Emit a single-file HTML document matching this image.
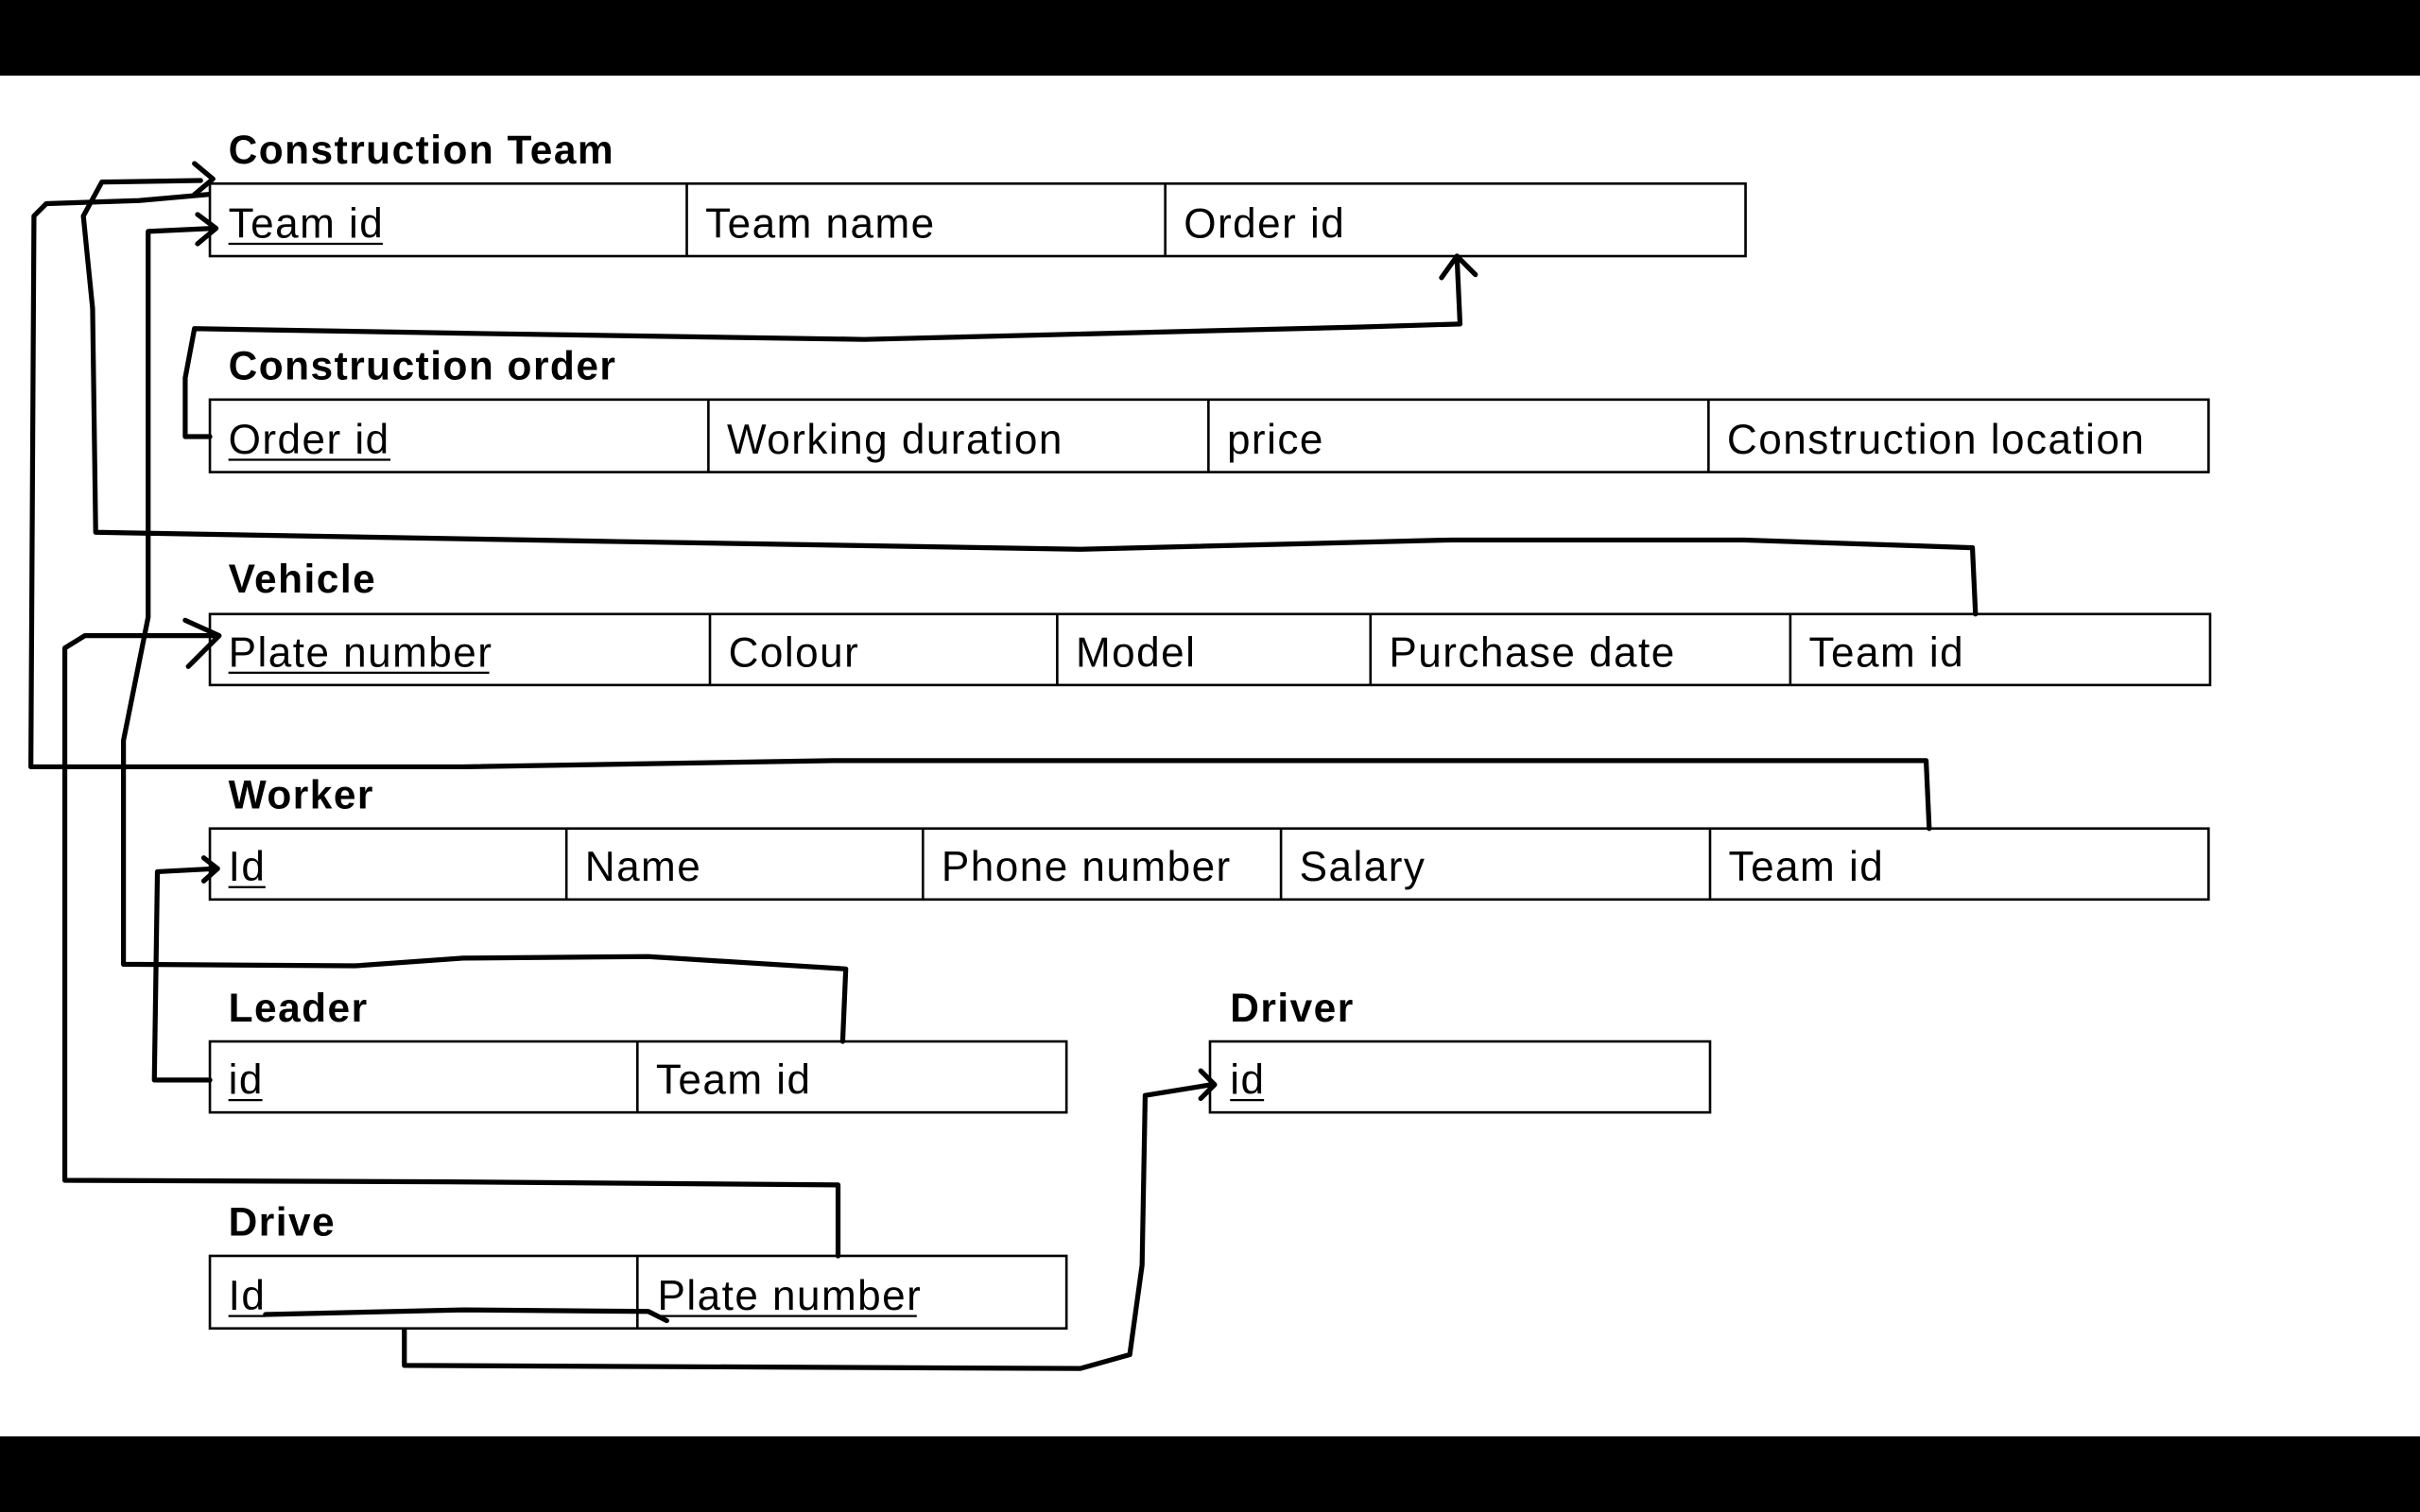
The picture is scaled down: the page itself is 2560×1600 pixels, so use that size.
<!DOCTYPE html>
<html><head><meta charset="utf-8"><style>
html,body{margin:0;padding:0;background:#fff}
svg{display:block}
text{font-family:"Liberation Sans","Noto Sans CJK SC",sans-serif;font-size:27px;fill:#000;letter-spacing:0.9px}
.t{font-weight:bold;font-size:26px;letter-spacing:0.9px}
.b{fill:none;stroke:#000;stroke-width:1.6}
.l{fill:none;stroke:#000;stroke-width:3.2;stroke-linecap:round;stroke-linejoin:round}
.u{stroke:#000;stroke-width:1.4}
</style></head><body>
<svg width="2560" height="1600" viewBox="0 0 1568 980" xmlns="http://www.w3.org/2000/svg">
<rect x="0" y="0" width="1568" height="49" fill="#000"/>
<rect x="0" y="931" width="1568" height="49" fill="#000"/>

<text class="t" x="148" y="106">Construction Team</text>
<rect class="b" x="136" y="119" width="995" height="47"/>
<line class="b" x1="445" y1="119" x2="445" y2="166"/><line class="b" x1="755" y1="119" x2="755" y2="166"/>
<text x="148" y="154">Team id</text><line class="u" x1="148" y1="158" x2="248" y2="158"/>
<text x="457" y="154">Team name</text><text x="767" y="154">Order id</text>

<text class="t" x="148" y="246">Construction order</text>
<rect class="b" x="136" y="259" width="1295" height="47"/>
<line class="b" x1="459" y1="259" x2="459" y2="306"/><line class="b" x1="783" y1="259" x2="783" y2="306"/><line class="b" x1="1107" y1="259" x2="1107" y2="306"/>
<text x="148" y="294">Order id</text><line class="u" x1="148" y1="298" x2="253" y2="298"/>
<text x="471" y="294">Working duration</text><text x="795" y="294">price</text><text x="1119" y="294">Construction location</text>

<text class="t" x="148" y="384">Vehicle</text>
<rect class="b" x="136" y="398" width="1296" height="46"/>
<line class="b" x1="460" y1="398" x2="460" y2="444"/><line class="b" x1="685" y1="398" x2="685" y2="444"/><line class="b" x1="888" y1="398" x2="888" y2="444"/><line class="b" x1="1160" y1="398" x2="1160" y2="444"/>
<text x="148" y="432">Plate number</text><line class="u" x1="148" y1="436" x2="317" y2="436"/>
<text x="472" y="432">Colour</text><text x="697" y="432">Model</text><text x="900" y="432">Purchase date</text><text x="1172" y="432">Team id</text>

<text class="t" x="148" y="524">Worker</text>
<rect class="b" x="136" y="537" width="1295" height="46"/>
<line class="b" x1="367" y1="537" x2="367" y2="583"/><line class="b" x1="598" y1="537" x2="598" y2="583"/><line class="b" x1="830" y1="537" x2="830" y2="583"/><line class="b" x1="1108" y1="537" x2="1108" y2="583"/>
<text x="148" y="571">Id</text><line class="u" x1="148" y1="575" x2="172" y2="575"/>
<text x="379" y="571">Name</text><text x="610" y="571">Phone number</text><text x="842" y="571">Salary</text><text x="1120" y="571">Team id</text>

<text class="t" x="148" y="662">Leader</text>
<rect class="b" x="136" y="675" width="555" height="46"/>
<line class="b" x1="413" y1="675" x2="413" y2="721"/>
<text x="148" y="709">id</text><line class="u" x1="148" y1="713" x2="170" y2="713"/>
<text x="425" y="709">Team id</text>

<text class="t" x="797" y="662">Driver</text>
<rect class="b" x="784" y="675" width="324" height="46"/>
<text x="797" y="709">id</text><line class="u" x1="797" y1="713" x2="819" y2="713"/>

<text class="t" x="148" y="801">Drive</text>
<rect class="b" x="136" y="814" width="555" height="47"/>
<line class="b" x1="413" y1="814" x2="413" y2="861"/>
<text x="148" y="849">Id</text><line class="u" x1="148" y1="853" x2="172" y2="853"/>
<text x="426" y="849">Plate number</text><line class="u" x1="426" y1="853" x2="594" y2="853"/>

<path class="l" d="M136,283 L120,283 L120,245 L126,213 L300,216 L560,220 L880,212 L946,210 L944,166"/>
<path class="l" d="M934,180 L944,166 L956,178"/>
<path class="l" d="M1280,398 L1278,355 L1130,350 L940,350 L700,356 L400,351 L62,345 L60,200 L54,140 L66,118 L130,117"/>
<path class="l" d="M126,106 L138,116 L126,126"/>
<path class="l" d="M1250,537 L1248,493 L540,493 L300,497 L20,497 L22,140 L30,132 L90,130 L135,126"/>
<path class="l" d="M546,675 L548,628 L420,620 L300,621 L230,626 L80,625 L80,480 L96,400 L96,150 L138,148"/>
<path class="l" d="M128,139 L140,148 L128,158"/>
<path class="l" d="M543,814 L543,768 L290,766 L42,765 L42,420 L55,412 L140,412"/>
<path class="l" d="M120,402 L142,412 L122,432"/>
<path class="l" d="M136,700 L100,700 L102,565 L140,563"/>
<path class="l" d="M132,556 L141,563 L132,571"/>
<path class="l" d="M172,852 L300,849 L420,850 L432,856"/>
<path class="l" d="M262,862 L262,885 L700,887 L732,878 L740,820 L742,710 L785,703"/>
<path class="l" d="M778,694 L787,703 L778,712"/>
</svg>
</body></html>
